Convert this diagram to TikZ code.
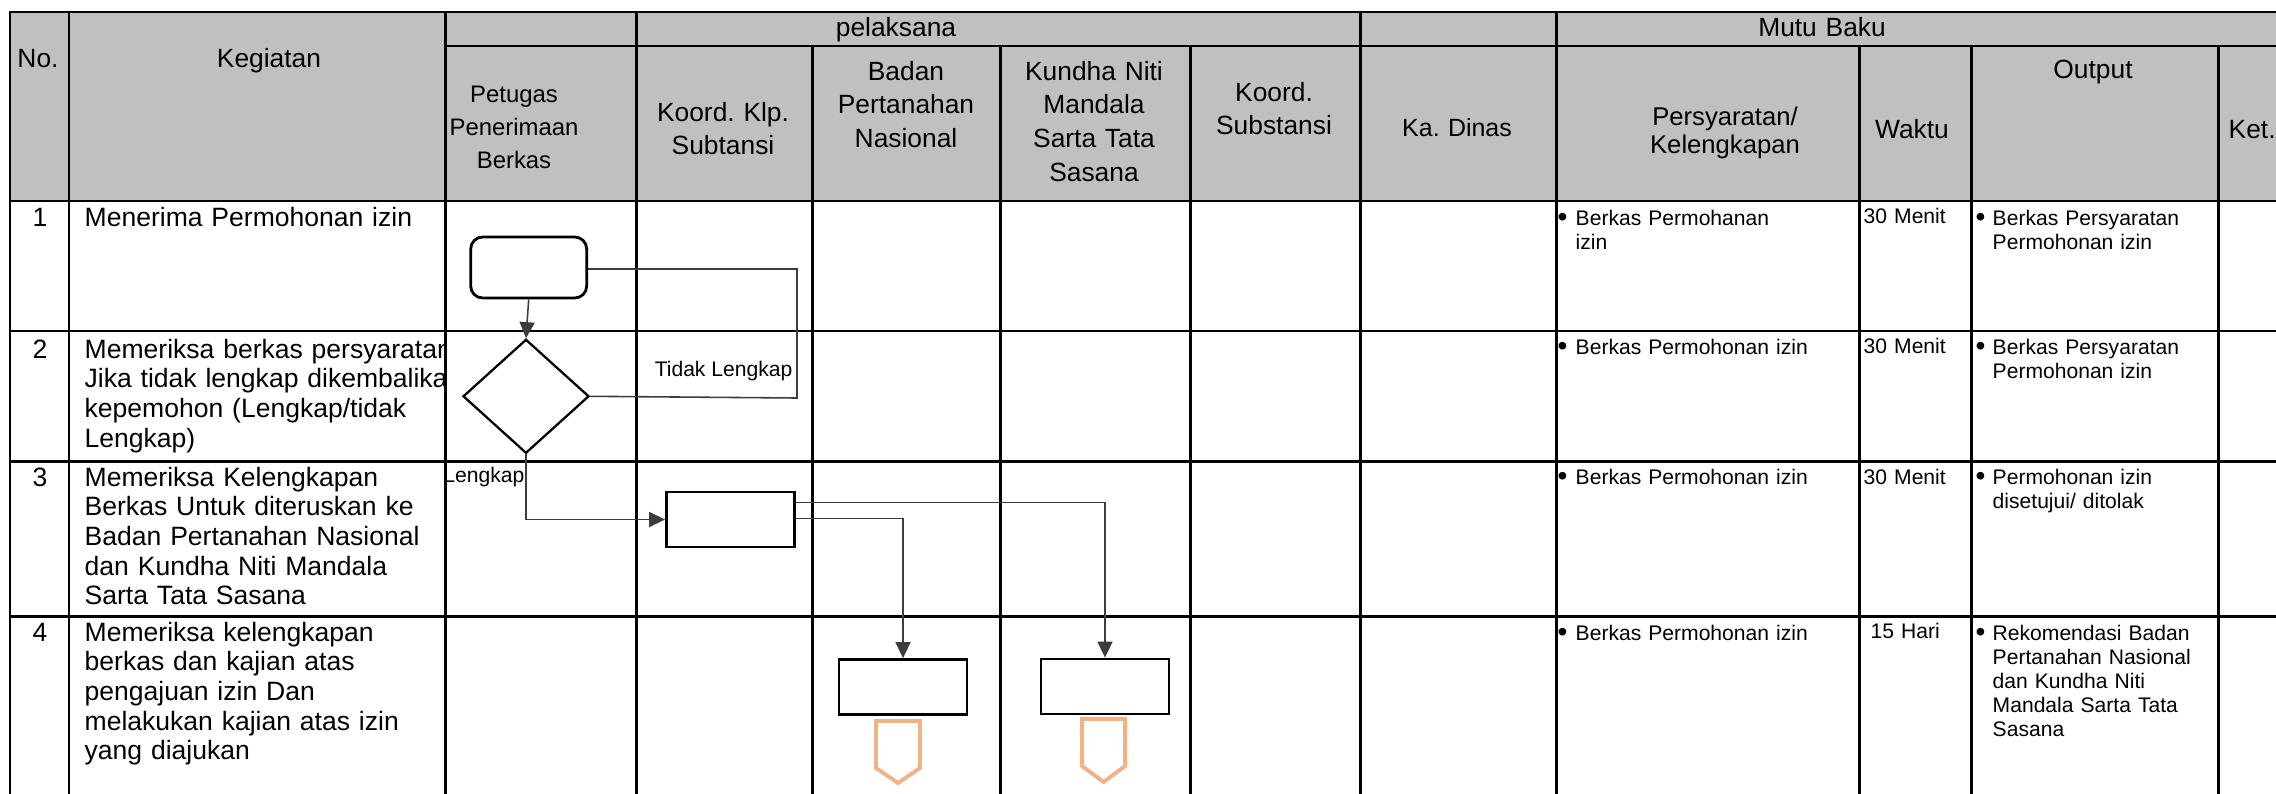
\documentclass[tikz,border=0pt]{standalone}
\usepackage{fontspec}
\setmainfont{Liberation Sans}
\usetikzlibrary{shapes.geometric,arrows.meta,calc}
\definecolor{hdr}{RGB}{192,192,192}
\definecolor{offc}{RGB}{244,177,131}
\definecolor{conc}{RGB}{60,60,60}
\frenchspacing
\begin{document}
\begin{tikzpicture}[x=0.1mm,y=-0.1mm,
  grid/.style={line width=0.85pt,line cap=rect},
  hd/.style={font=\fontsize{7.5pt}{9.6pt}\selectfont,inner sep=0pt,align=center,text width=18mm,anchor=base},
  hdp/.style={font=\fontsize{7.3pt}{8.2pt}\selectfont,inner sep=0pt,align=center,text width=18mm,anchor=base},
  hdn/.style={font=\fontsize{6.8pt}{9.4pt}\selectfont,inner sep=0pt,align=center,text width=18mm,anchor=base},
  body/.style={font=\fontsize{7.55pt}{8.45pt}\selectfont,inner sep=0pt,align=left,text width=50mm,anchor=base west},
  num/.style={font=\fontsize{7.55pt}{8.45pt}\selectfont,inner sep=0pt,anchor=base},
  small/.style={font=\fontsize{6pt}{6.83pt}\selectfont,inner sep=0pt,align=left,text width=28mm,anchor=base west},
  bul/.style={font=\fontsize{8pt}{8pt}\selectfont,inner sep=0pt,anchor=base west},
  lbl/.style={font=\fontsize{6pt}{6.83pt}\selectfont,inner sep=0pt,anchor=base east},
  startbox/.style={draw,line width=0.8pt,rounded corners=1.2mm,minimum width=11.6mm,minimum height=6.1mm,inner sep=0pt},
  decision/.style={draw,diamond,line width=0.65pt,minimum width=12.6mm,minimum height=11.4mm,inner sep=0pt},
  procbox/.style={draw,line width=0.8pt,minimum width=12.8mm,minimum height=5.5mm,inner sep=0pt},
  conn/.style={draw=conc,line width=0.45pt},
  arr/.style={conn,-{Triangle[length=1.6mm,width=1.5mm]}},
  offpage/.style={draw=offc,line width=1.1pt,line join=miter}
]
\useasboundingbox (0,0) rectangle (2276,793);
\fill[white] (0,0) rectangle (2276,793);
\begin{scope}
\clip (0,0) rectangle (2276,793);
% header background
\fill[hdr] (10,12) rectangle (2290,201);
% grid
\draw[grid] (10,12) -- (2290,12);
\draw[grid] (445,46) -- (2290,46);
\foreach \y in {201,331,461,616} \draw[grid] (10,\y) -- (2290,\y);
\foreach \x in {10,69,445,636,1360,1556} \draw[grid] (\x,12) -- (\x,800);
\foreach \x in {812,1000,1190,1859,1971,2218} \draw[grid] (\x,46) -- (\x,800);

% header texts
\node[hd] (hpel) at (896,37) {pelaksana};
\node[hd] (hmutu) at (1822,37) {Mutu Baku};
\node[hd] (hno) at (38,67) {No.};
\node[hd,text width=30mm] (hkeg) at (269,67) {Kegiatan};
\node[hdn] (hpet) at (514,102) {Petugas\\Penerimaan\\Berkas};
\node[hd] (hkk) at (723,121) {Koord. Klp.\\Subtansi};
\node[hd] (hbpn) at (906,80) {Badan\\Pertanahan\\Nasional};
\node[hd] (hkn) at (1094,80) {Kundha Niti\\Mandala\\Sarta Tata\\Sasana};
\node[hd] (hks) at (1274,101) {Koord.\\Substansi};
\node[hd,font=\fontsize{7.1pt}{9.6pt}\selectfont] (hkd) at (1457,136) {Ka. Dinas};
\node[hdp] (hper) at (1725,125) {Persyaratan/\\Kelengkapan};
\node[hd] (hwak) at (1912,138) {Waktu};
\node[hd] (hout) at (2093,78) {Output};
\node[hd,anchor=base west,text width=10mm,align=left] (hket) at (2228,138) {Ket.};

% numbers
\node[num] (n1) at (40,226) {1};
\node[num] (n2) at (40,358) {2};
\node[num] (n3) at (40,486) {3};
\node[num] (n4) at (40,641) {4};

% kegiatan texts (clipped at column border)
\begin{scope}
\clip (69,201) rectangle (445,800);
\node[body] (k1) at (84,226) {Menerima Permohonan izin};
\node[body] (k2) at (84,358) {Memeriksa berkas persyaratan\\Jika tidak lengkap dikembalikan\\kepemohon (Lengkap/tidak\\Lengkap)};
\node[body] (k3) at (84,486) {Memeriksa Kelengkapan\\Berkas Untuk diteruskan ke\\Badan Pertanahan Nasional\\dan Kundha Niti Mandala\\Sarta Tata Sasana};
\node[body] (k4) at (84,641) {Memeriksa kelengkapan\\berkas dan kajian atas\\pengajuan izin Dan\\melakukan kajian atas izin\\yang diajukan};
\end{scope}

% persyaratan
\node[bul] (pb1) at (1557,226) {\textbullet};
\node[small] (p1) at (1575,225) {Berkas Permohanan\\izin};
\node[bul] (pb2) at (1557,355) {\textbullet};
\node[small] (p2) at (1575,354) {Berkas Permohonan izin};
\node[bul] (pb3) at (1557,485) {\textbullet};
\node[small] (p3) at (1575,484) {Berkas Permohonan izin};
\node[bul] (pb4) at (1557,641) {\textbullet};
\node[small] (p4) at (1575,640) {Berkas Permohonan izin};

% waktu
\node[small] (w1) at (1863,223) {30 Menit};
\node[small] (w2) at (1863,353) {30 Menit};
\node[small] (w3) at (1863,484) {30 Menit};
\node[small] (w4) at (1870,638) {15 Hari};

% output
\node[bul] (ob1) at (1975,226) {\textbullet};
\node[small] (o1) at (1992,225) {Berkas Persyaratan\\Permohonan izin};
\node[bul] (ob2) at (1975,355) {\textbullet};
\node[small] (o2) at (1992,354) {Berkas Persyaratan\\Permohonan izin};
\node[bul] (ob3) at (1975,485) {\textbullet};
\node[small] (o3) at (1992,484) {Permohonan izin\\disetujui/ ditolak};
\node[bul] (ob4) at (1975,641) {\textbullet};
\node[small] (o4) at (1992,640) {Rekomendasi Badan\\Pertanahan Nasional\\dan Kundha Niti\\Mandala Sarta Tata\\Sasana};

% flowchart
\node[startbox] (start) at (528.7,267.5) {};
\node[decision] (dec) at (526,396.3) {};
\node[procbox] (koord) at (730.5,519.5) {};
\node[procbox] (bpn) at (903,687) {};
\node[procbox] (kundha) at (1105,686.5) {};
\coordinate (loopA) at (797,269);
\coordinate (loopB) at (797,398);

\draw[arr] (start.south) -- (dec.north);
\draw[conn] (start.east |- loopA) -- (loopA) -- (loopB) -- (dec.east);
\draw[arr] (dec.south) |- (koord.west);
\draw[arr] ([yshift=1.72mm]koord.east) -| (kundha.north);
\draw[arr] ([yshift=0.08mm]koord.east) -| (bpn.north);

\node[lbl] (tl) at (793,376) {Tidak Lengkap};
\node[lbl] (lk) at (525,482) {Lengkap};

% off-page connectors
\draw[offpage] (876,721) -- (920,721) -- (920,768) -- (898,783) -- (876,768) -- cycle;
\draw[offpage] (1082,719) -- (1125,719) -- (1125,766) -- (1103.5,782) -- (1082,766) -- cycle;
\end{scope}
\end{tikzpicture}
\end{document}
